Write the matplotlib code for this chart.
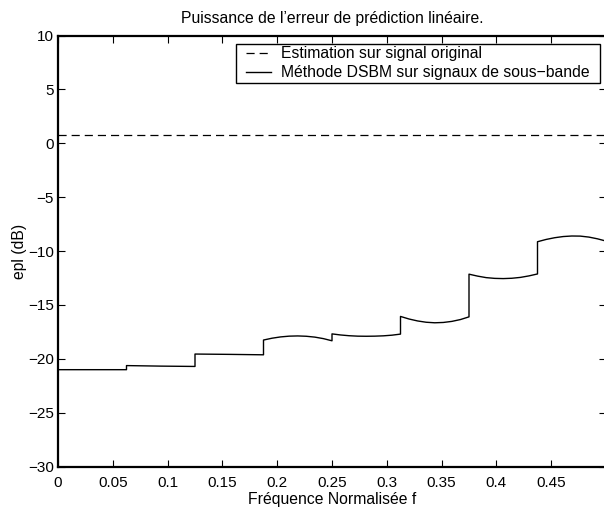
import matplotlib
matplotlib.use("Agg")
import matplotlib.pyplot as plt
from matplotlib.path import Path

plt.rcParams['font.family'] = ['Liberation Sans', 'DejaVu Sans']

# Reference level (full-band estimation)
orig_level = 0.8

# DSBM curve, sampled per sub-band (8 bands of width 1/16)
f_points = [
    0.0, 0.03125, 0.0625,
    0.0625, 0.09375, 0.125,
    0.125, 0.15625, 0.1875,
    0.1875, 0.1953125, 0.203125, 0.2109375, 0.21875, 0.2265625, 0.234375, 0.2421875, 0.25,
    0.25, 0.2578125, 0.265625, 0.2734375, 0.28125, 0.2890625, 0.296875, 0.3046875, 0.3125,
    0.3125, 0.3203125, 0.328125, 0.3359375, 0.34375, 0.3515625, 0.359375, 0.3671875, 0.375,
    0.375, 0.3828125, 0.390625, 0.3984375, 0.40625, 0.4140625, 0.421875, 0.4296875, 0.4375,
    0.4375, 0.4453125, 0.453125, 0.4609375, 0.46875, 0.4765625, 0.484375, 0.4921875, 0.5,
]
epl_points = [
    -21.0, -21.0, -21.0,
    -20.62, -20.67, -20.70,
    -19.55, -19.58, -19.62,
    -18.25, -18.08, -17.96, -17.89, -17.87, -17.9, -17.98, -18.12, -18.32,
    -17.68, -17.78, -17.85, -17.89, -17.9, -17.89, -17.86, -17.8, -17.7,
    -16.06, -16.3, -16.48, -16.6, -16.65, -16.62, -16.52, -16.35, -16.1,
    -12.14, -12.32, -12.46, -12.53, -12.55, -12.52, -12.44, -12.3, -12.12,
    -9.13, -8.92, -8.76, -8.65, -8.6, -8.61, -8.7, -8.86, -9.07,
]

x_ticks = [0, 0.05, 0.1, 0.15, 0.2, 0.25, 0.3, 0.35, 0.4, 0.45]
x_tick_labels = ['0', '0.05', '0.1', '0.15', '0.2', '0.25', '0.3', '0.35', '0.4', '0.45']
y_ticks = [-30, -25, -20, -15, -10, -5, 0, 5, 10]

fig = plt.figure(figsize=(6.04, 5.08), dpi=100)
ax = fig.add_axes([58/604, 41.3/508, 548/604, 431.2/508])

ax.axhline(orig_level, color='black', linestyle=(0, (6.5, 4)), linewidth=0.9,
           label='Estimation sur signal original')
ax.plot(f_points, epl_points, color='black', linewidth=1.0,
        label='Méthode DSBM sur signaux de sous\u2212bande')

ax.set_xlim(0, 0.5)
ax.set_ylim(-30, 10)
ax.set_xticks(x_ticks)
ax.set_xticklabels(x_tick_labels)
ax.set_yticks(y_ticks)
ax.set_yticklabels([str(v).replace('-', '\u2212') for v in y_ticks])
ax.tick_params(direction='in', top=True, right=True, length=5, width=0.8,
               labelsize=11)
ax.tick_params(axis='x', pad=7)
ax.tick_params(axis='y', pad=3)
for s in ax.spines.values():
    s.set_linewidth(1.6)

ax.set_title("Puissance de l\u2019erreur de prédiction linéaire.", fontsize=11.3, pad=9)
ax.set_xlabel('Fréquence Normalisée f', fontsize=11.3, labelpad=1)
ax.set_ylabel('epl (dB)', fontsize=11.3, labelpad=1)

leg = ax.legend(loc='upper right', bbox_to_anchor=(0.975, 0.980), fontsize=11.3,
                frameon=True, fancybox=False, framealpha=1, edgecolor='black',
                borderpad=0.15, labelspacing=0.25, handlelength=1.6,
                handletextpad=0.64, borderaxespad=0)
leg.get_frame().set_linewidth(1.0)


def wide_box(x0, y0, width, height, mutation_size, dx=7.5):
    xa, xb = x0 - dx, x0 + width + dx
    ya, yb = y0, y0 + height
    return Path([(xa, ya), (xb, ya), (xb, yb), (xa, yb), (xa, ya)], closed=True)


leg.get_frame().set_boxstyle(wide_box)

fig.savefig('out.png', dpi=100)
